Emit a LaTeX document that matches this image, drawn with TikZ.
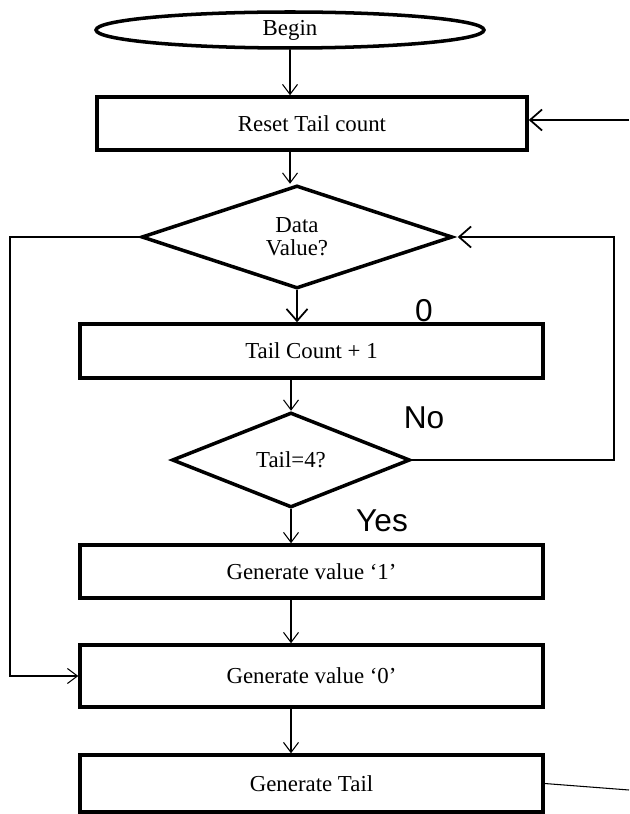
\documentclass[tikz,border=0pt]{standalone}
\usepackage{fontspec}
\setmainfont{Liberation Serif}
\newfontfamily\lblfont{Liberation Sans}
\usetikzlibrary{shapes.geometric, arrows.meta, positioning}

\begin{document}
\begin{tikzpicture}[x=0.02cm, y=-0.02cm,
  boxfont/.style={font=\fontsize{13}{13}\selectfont},
  procbox/.style={draw, line width=2pt, rectangle, boxfont, minimum width=9.26cm, minimum height=1.08cm},
  decbox/.style={draw, line width=2pt, diamond, boxfont, align=center, inner sep=0pt},
  lbl/.style={font=\lblfont\fontsize{18}{18}\selectfont},
  arr/.style={line width=0.6pt, -{Straight Barb[length=2mm, width=3mm]}},
  bigarr/.style={line width=1pt, -{Straight Barb[length=2.4mm, width=4.2mm]}},
  conn/.style={line width=0.6pt}]
  \useasboundingbox (0,0) rectangle (629,814);

  % start
  \node[draw, ellipse, line width=2pt, boxfont, minimum width=7.76cm, minimum height=0.72cm, inner sep=0pt] (begin) at (290,30) {Begin};

  % blocks
  \node[procbox, minimum width=8.6cm, minimum height=1.06cm] (reset) at (312,123.5) {Reset Tail count};
  \node[decbox, minimum width=6.22cm, minimum height=2.06cm] (data) at (297,237) {Data\\Value?};
  \node[procbox] (tcount) at (311.5,351) {Tail Count + 1};
  \node[decbox, minimum width=4.76cm, minimum height=1.9cm] (tail) at (291,460) {Tail=4?};
  \node[procbox, minimum height=1.06cm] (gen1) at (311.5,571.5) {Generate value `1'};
  \node[procbox, minimum height=1.24cm] (gen0) at (311.5,676) {Generate value `0'};
  \node[procbox, minimum height=1.14cm] (gtail) at (311.5,783.5) {Generate Tail};

  % labels
  \node[lbl] (lzero) at (424,311) {0};
  \node[lbl] (lno) at (424,418) {No};
  \node[lbl] (lyes) at (382,521) {Yes};

  % loop ends
  \coordinate (lft) at (10,0);
  \coordinate (rgt) at (614,0);
  \coordinate (inR) at (629,120);
  \coordinate (outR) at (629,790);

  % main flow
  \draw[arr] (begin.south) -- (begin.south |- reset.north);
  \draw[arr] (reset.south -| begin.south) -- (data.north -| begin.south);
  \draw[bigarr] (data.south) -- (data.south |- tcount.north);
  \draw[arr] (tcount.south -| tail.north) -- (tail.north);
  \draw[arr] (tail.south) -- (tail.south |- gen1.north);
  \draw[arr] (gen1.south -| tail.south) -- (gen0.north -| tail.south);
  \draw[arr] (gen0.south -| tail.south) -- (gtail.north -| tail.south);

  % loops
  \draw[arr] (data.west) -- (data.west -| lft) |- (gen0.west);
  \draw[bigarr, shorten >=2pt] (tail.east) -- (tail.east -| rgt) |- (data.east);
  \draw[bigarr] (inR) -- (inR -| reset.east);
  \draw[conn] (gtail.east) -- (outR);
\end{tikzpicture}
\end{document}
